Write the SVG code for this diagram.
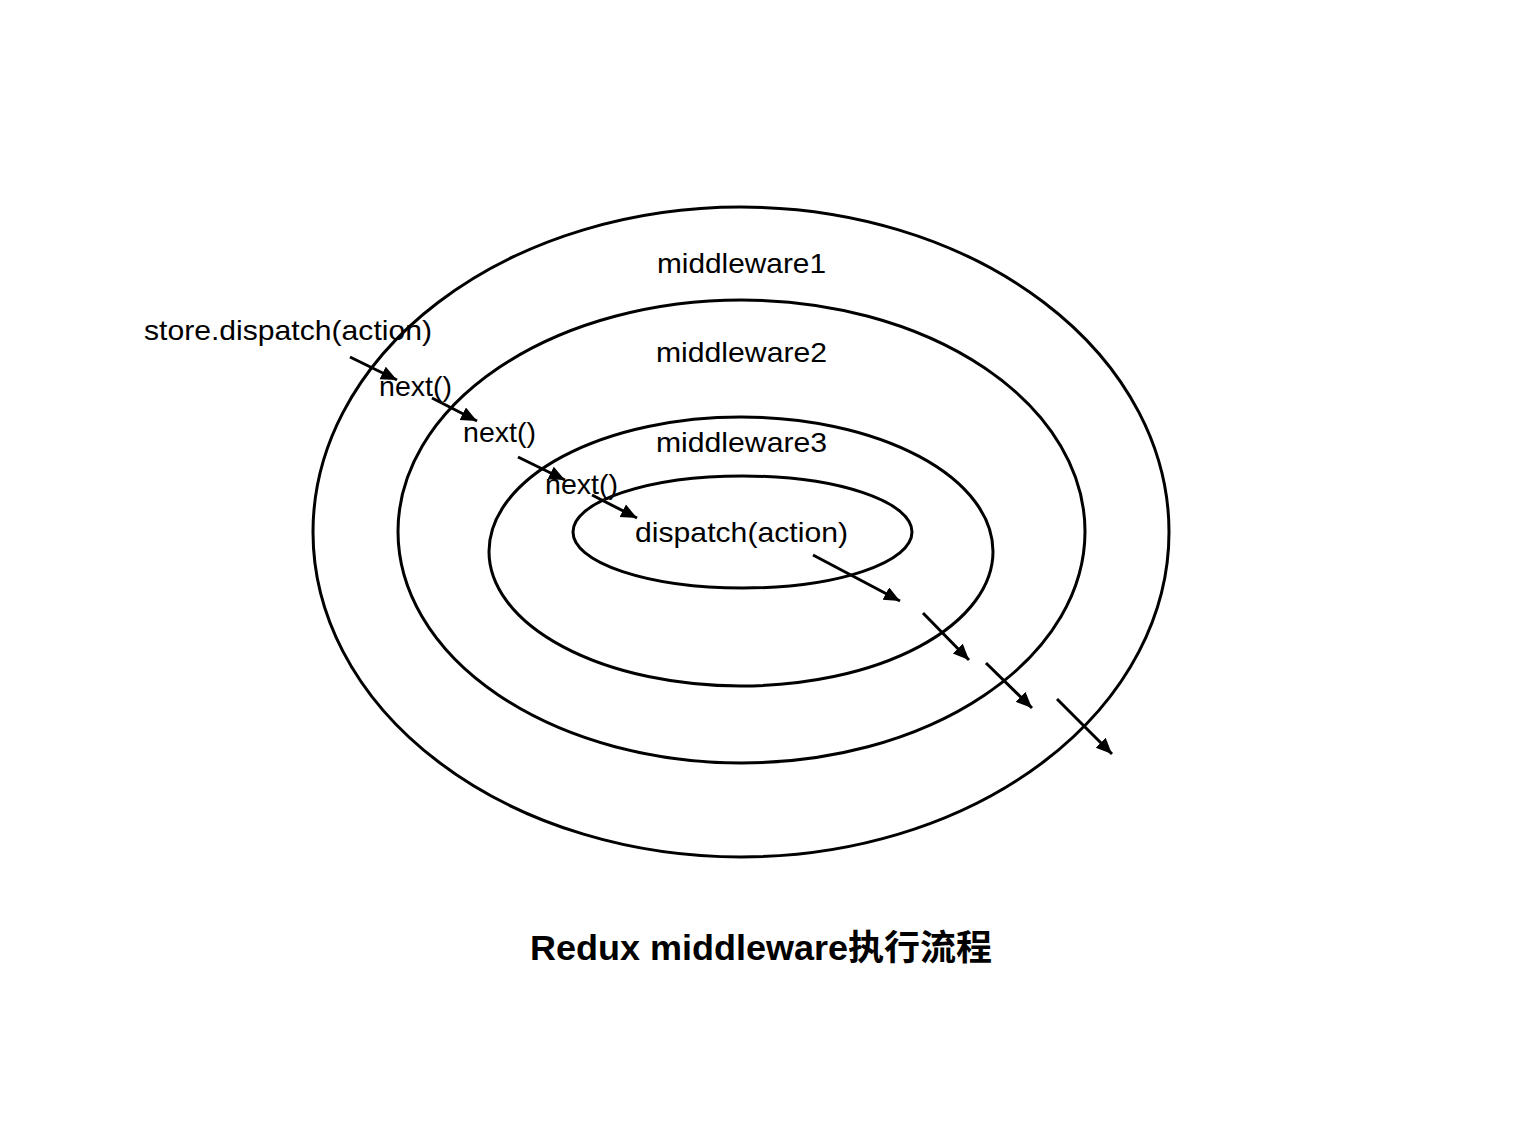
<svg xmlns="http://www.w3.org/2000/svg" width="1524" height="1142" viewBox="0 0 1524 1142">
<style>
.ring{fill:none;stroke:#000;stroke-width:3}
.lbl{font-family:"Liberation Sans",Arial,sans-serif;font-size:28px;fill:#000}
.c{text-anchor:middle}
.ttl{font-family:"Liberation Sans","Noto Sans CJK SC",sans-serif;font-size:35px;font-weight:bold;fill:#000;text-anchor:middle}
.arr{fill:none;stroke:#000;stroke-width:3;marker-end:url(#ah)}
</style>
<defs>
<marker id="ah" markerUnits="userSpaceOnUse" markerWidth="20" markerHeight="16" refX="16" refY="7" orient="auto">
<path d="M0,0 L16,7 L0,14 Z" fill="#000"/>
</marker>
</defs>
<rect width="1524" height="1142" fill="#fff"/>
<g id="middleware1">
<ellipse class="ring" cx="741" cy="532" rx="428" ry="325"/>
<text class="lbl c" x="741.5" y="273" textLength="169" lengthAdjust="spacingAndGlyphs">middleware1</text>
</g>
<g id="middleware2">
<ellipse class="ring" cx="741.5" cy="531.5" rx="343.5" ry="231.5"/>
<text class="lbl c" x="741.5" y="362" textLength="171" lengthAdjust="spacingAndGlyphs">middleware2</text>
</g>
<g id="middleware3">
<ellipse class="ring" cx="741" cy="551.5" rx="252" ry="134.5"/>
<text class="lbl c" x="741.5" y="452" textLength="171" lengthAdjust="spacingAndGlyphs">middleware3</text>
</g>
<g id="dispatch">
<ellipse class="ring" cx="742.5" cy="532" rx="169.5" ry="56"/>
<text class="lbl" x="635" y="542" textLength="213" lengthAdjust="spacingAndGlyphs">dispatch(action)</text>
</g>
<g id="labels">
<text class="lbl" x="144" y="340" textLength="288" lengthAdjust="spacingAndGlyphs">store.dispatch(action)</text>
<text class="lbl" x="379" y="396" textLength="73" lengthAdjust="spacingAndGlyphs">next()</text>
<text class="lbl" x="463" y="442" textLength="73" lengthAdjust="spacingAndGlyphs">next()</text>
<text class="lbl" x="545" y="494" textLength="73" lengthAdjust="spacingAndGlyphs">next()</text>
</g>
<g id="connectors">
<line class="arr" x1="350" y1="357" x2="397" y2="380"/>
<line class="arr" x1="432" y1="398" x2="477" y2="421"/>
<line class="arr" x1="518" y1="457" x2="565" y2="480"/>
<line class="arr" x1="592" y1="495" x2="637" y2="518"/>
<line class="arr" x1="813" y1="555" x2="900" y2="601"/>
<line class="arr" x1="923" y1="613" x2="969" y2="660"/>
<line class="arr" x1="986" y1="663" x2="1032" y2="708"/>
<line class="arr" x1="1057" y1="699" x2="1112" y2="754"/>
</g>
<text class="ttl" x="761" y="960" textLength="462" lengthAdjust="spacingAndGlyphs">Redux middleware执行流程</text>
</svg>
